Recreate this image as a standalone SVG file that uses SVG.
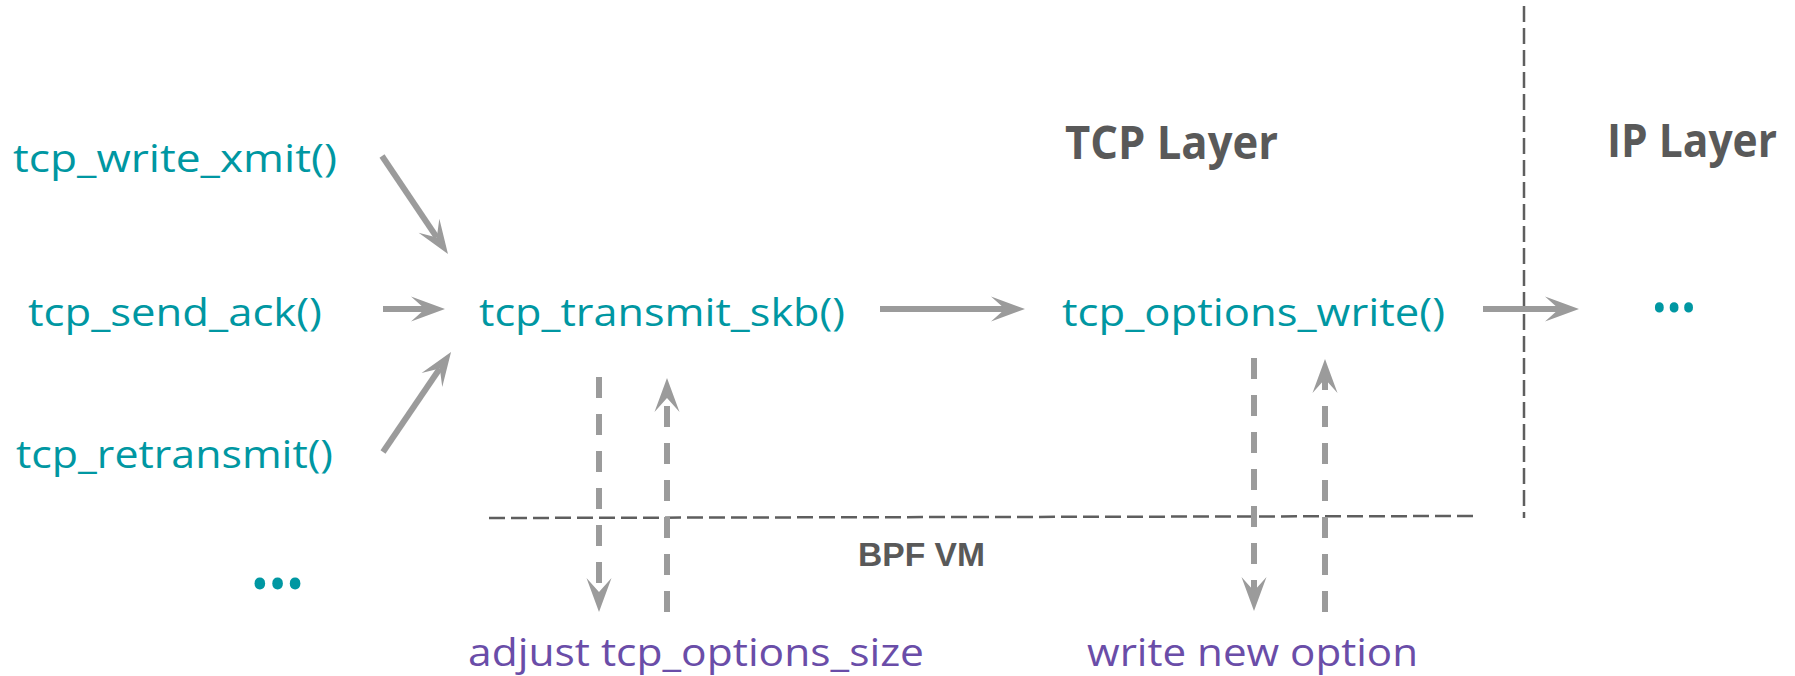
<svg xmlns="http://www.w3.org/2000/svg" width="1795" height="676" viewBox="0 0 1795 676">
  <style>
    .fn { font-family: "Open Sans", "Noto Sans", sans-serif; font-size: 38px; fill: #0097A2; }
    .act { font-family: "Open Sans", "Noto Sans", sans-serif; font-size: 38px; fill: #6A4DA8; }
    .layer { font-family: "Open Sans", "Noto Sans", sans-serif; font-size: 46px; font-weight: bold; fill: #595959; }
    .vm { font-family: "Liberation Sans", Arial, sans-serif; font-size: 33px; font-weight: bold; fill: #595959; }
    .dots { font-family: "Open Sans", "Noto Sans", sans-serif; font-weight: bold; fill: #0097A2; }
    .call { fill: none; stroke: #9B9B9B; stroke-width: 6; marker-end: url(#head); }
    .hook { fill: none; stroke: #9B9B9B; stroke-width: 6; stroke-dasharray: 21 16; marker-end: url(#head); }
    .bound { fill: none; stroke: #5E5E5E; stroke-width: 2.5; stroke-dasharray: 16 6; }
  </style>
  <defs>
    <!-- notched "stealth" arrowhead; the line ends at the notch -->
    <marker id="head" markerUnits="userSpaceOnUse" viewBox="-16 -15 38 30" markerWidth="38" markerHeight="30" refX="0" refY="0" orient="auto">
      <path d="M20,0 L-14,-12.5 L0,0 L-14,12.5 Z" fill="#9B9B9B"/>
    </marker>
  </defs>

  <rect width="1795" height="676" fill="#FFFFFF"/>

  <!-- layer boundaries -->
  <g id="boundaries">
    <line class="bound" x1="489" y1="518" x2="1474" y2="516"/>
    <line class="bound" x1="1524" y1="6" x2="1524" y2="518"/>
  </g>

  <!-- connectors -->
  <g id="connectors">
    <line class="call" x1="382" y1="156" x2="436.8" y2="237.4"/>
    <line class="call" x1="383" y1="309" x2="425" y2="309"/>
    <line class="call" x1="383" y1="452" x2="439.8" y2="368.5"/>
    <line class="call" x1="880" y1="309" x2="1005" y2="309"/>
    <line class="call" x1="1483" y1="309" x2="1559" y2="309"/>
    <line class="hook" x1="599" y1="377" x2="599" y2="592"/>
    <line class="hook" x1="667" y1="612" x2="667" y2="398"/>
    <line class="hook" x1="1254" y1="358" x2="1254" y2="591"/>
    <line class="hook" x1="1325" y1="612" x2="1325" y2="379"/>
  </g>

  <!-- layer titles -->
  <g id="tcp-layer"><text class="layer" x="1065" y="159" textLength="213" lengthAdjust="spacingAndGlyphs">TCP Layer</text></g>
  <g id="ip-layer"><text class="layer" x="1607" y="157" textLength="170" lengthAdjust="spacingAndGlyphs">IP Layer</text></g>
  <g id="bpf-vm"><text class="vm" x="858" y="566" textLength="127" lengthAdjust="spacingAndGlyphs">BPF VM</text></g>

  <!-- callers -->
  <g id="tcp-write-xmit"><text class="fn" x="13" y="172" textLength="324" lengthAdjust="spacingAndGlyphs">tcp_write_xmit()</text></g>
  <g id="tcp-send-ack"><text class="fn" x="28" y="326" textLength="294" lengthAdjust="spacingAndGlyphs">tcp_send_ack()</text></g>
  <g id="tcp-retransmit"><text class="fn" x="16" y="468" textLength="317" lengthAdjust="spacingAndGlyphs">tcp_retransmit()</text></g>
  <g id="more-callers"><text class="dots" x="251" y="589" font-size="72" textLength="53" lengthAdjust="spacingAndGlyphs">...</text></g>

  <!-- TCP path -->
  <g id="tcp-transmit-skb"><text class="fn" x="479" y="326" textLength="366" lengthAdjust="spacingAndGlyphs">tcp_transmit_skb()</text></g>
  <g id="tcp-options-write"><text class="fn" x="1062" y="326" textLength="383" lengthAdjust="spacingAndGlyphs">tcp_options_write()</text></g>
  <g id="ip-next"><text class="dots" x="1652" y="312" font-size="60" textLength="44" lengthAdjust="spacingAndGlyphs">...</text></g>

  <!-- BPF actions -->
  <g id="adjust-size"><text class="act" x="468" y="666" textLength="456" lengthAdjust="spacingAndGlyphs">adjust tcp_options_size</text></g>
  <g id="write-option"><text class="act" x="1087" y="666" textLength="331" lengthAdjust="spacingAndGlyphs">write new option</text></g>
</svg>
